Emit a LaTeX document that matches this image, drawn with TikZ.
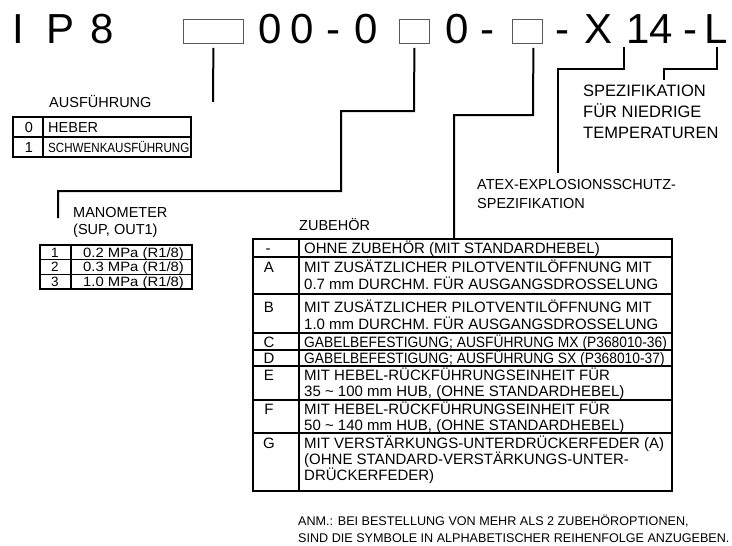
\documentclass[tikz,border=0pt]{standalone}
\usepackage{fontspec}
\setmainfont{Liberation Sans}
\usepackage{graphicx}
\begin{document}
\begin{tikzpicture}[x=1pt,y=-1pt,
  big/.style={font=\fontsize{42}{48}\selectfont, inner sep=0pt, anchor=base},
  lab/.style={font=\fontsize{14.5}{17}\selectfont, inner sep=0pt, anchor=base west},
  mlab/.style={font=\fontsize{13.5}{16}\selectfont, inner sep=0pt, anchor=base west},
  mkey/.style={font=\fontsize{13.5}{16}\selectfont, inner sep=0pt, anchor=base},
  hdr/.style={font=\fontsize{16.5}{20}\selectfont, inner sep=0pt, anchor=base west},
  atx/.style={font=\fontsize{14.5}{17}\selectfont, inner sep=0pt, anchor=base west},
  cell/.style={font=\fontsize{15}{18}\selectfont, inner sep=0pt, anchor=base west},
  key/.style={font=\fontsize{15}{18}\selectfont, inner sep=0pt, anchor=base},
  skey/.style={font=\fontsize{14.5}{17}\selectfont, inner sep=0pt, anchor=base},
  note/.style={font=\fontsize{12.6}{15}\selectfont, inner sep=0pt, anchor=base west},
  leader/.style={line width=2pt},
  codebox/.style={draw=black!65, line width=0.8pt, inner sep=0pt, minimum width=#1, minimum height=24pt, anchor=north west},
  tabout/.style={line width=1.8pt},
  tabin/.style={line width=1.1pt}
]
\useasboundingbox (0,0) rectangle (732,546);

% ---- code line ----
\node[big] (cI) at (18,43) {I};
\node[big] (cP) at (61,43) {P};
\node[big] (c8) at (102.5,43) {8};
\node[codebox=60pt] (b1) at (183,19) {};
\node[big] (c0a) at (270.5,43) {0};
\node[big] (c0b) at (302.5,43) {0};
\node[big] (cda) at (333.5,43) {-};
\node[big] (c0c) at (366.5,43) {0};
\node[codebox=30pt] (b2) at (399,19) {};
\node[big] (c0d) at (457,43) {0};
\node[big] (cdb) at (487,43) {-};
\node[codebox=30pt] (b3) at (512,19) {};
\node[big] (cdc) at (562,43) {-};
\node[big] (cX) at (599,43) {X};
\node[big] (c14) at (649.5,43) {14};
\node[big] (cdd) at (690,43) {-};
\node[big] (cL) at (716,43) {L};

% ---- leader lines ----
\coordinate (e1) at (213,102);
\coordinate (e2) at (58,218);
\coordinate (e3) at (454,239);
\coordinate (e4) at (558,173);
\coordinate (e5) at (664,80);
\draw[leader] ([yshift=-4pt]b1.south) -- (e1);
\draw[leader] ([yshift=-4pt]b2.south) -- (414,111) -- (341,111) -- (341,191) -| (e2);
\draw[leader] ([xshift=6pt,yshift=-4pt]b3.south) -- (533,115) -| (e3);
\draw[leader] ([xshift=25pt,yshift=-4pt]cX.base) -- (624,69) -| (e4);
\draw[leader] ([xshift=1pt,yshift=-4pt]cL.base) -- (717,69) -| (e5);

% ---- labels top right ----
\node[hdr] (sp1) at (583,96) {SPEZIFIKATION};
\node[hdr] (sp2) at (583,117) {FÜR NIEDRIGE};
\node[hdr] (sp3) at (583,138) {TEMPERATUREN};
\node[atx] (at1) at (477,189) {ATEX-EXPLOSIONSSCHUTZ-};
\node[atx] (at2) at (477,208) {SPEZIFIKATION};

% ---- AUSFÜHRUNG ----
\node[lab] (aus) at (49,107) {AUSFÜHRUNG};
\draw[tabout] (13,117) rectangle (191,157);
\draw[tabin] (13,137) -- (191,137) (43,117) -- (43,157);
\node[skey] (k0) at (29,132) {0};
\node[lab] (t0) at (48,132) {HEBER};
\node[skey] (k1) at (29,152) {1};
\node[lab] (t1) at (48,152) {\scalebox{0.8}[0.92]{SCHWENKAUSFÜHRUNG}};

% ---- MANOMETER ----
\node[lab] (man1) at (73,217) {MANOMETER};
\node[lab] (man2) at (73,234) {(SUP, OUT1)};
\draw[tabout] (40,245) rectangle (192,289);
\draw[tabin] (40,259.7) -- (192,259.7) (40,274.3) -- (192,274.3) (71,245) -- (71,289);
\node[mkey] (m1) at (55,257) {1};
\node[mlab] (mt1) at (83,257) {\scalebox{1.1}[1]{0.2 MPa (R1/8)}};
\node[mkey] (m2) at (55,271.7) {2};
\node[mlab] (mt2) at (83,271.7) {\scalebox{1.1}[1]{0.3 MPa (R1/8)}};
\node[mkey] (m3) at (55,286.4) {3};
\node[mlab] (mt3) at (83,286.4) {\scalebox{1.1}[1]{1.0 MPa (R1/8)}};

% ---- ZUBEHÖR ----
\node[lab] (zub) at (299,230) {ZUBEHÖR};
\draw[tabout] (253,239) rectangle (672,491);
\draw[tabin] (253,257) -- (672,257) (253,294) -- (672,294) (253,333) -- (672,333)
  (253,350) -- (672,350) (253,366) -- (672,366) (253,400) -- (672,400)
  (253,433) -- (672,433) (299,239) -- (299,491);
\node[key] (z0) at (268,253.5) {-};
\node[cell] (zt0) at (304,253.5) {OHNE ZUBEHÖR (MIT STANDARDHEBEL)};
\node[key] (zA) at (269,272.5) {A};
\node[cell] (ztA1) at (304,272.5) {MIT ZUSÄTZLICHER PILOTVENTILÖFFNUNG MIT};
\node[cell] (ztA2) at (304,289.5) {0.7 mm DURCHM. FÜR AUSGANGSDROSSELUNG};
\node[key] (zB) at (269,312.5) {B};
\node[cell] (ztB1) at (304,312.5) {MIT ZUSÄTZLICHER PILOTVENTILÖFFNUNG MIT};
\node[cell] (ztB2) at (304,329.5) {1.0 mm DURCHM. FÜR AUSGANGSDROSSELUNG};
\node[key] (zC) at (269,347.5) {C};
\node[cell] (ztC) at (304,347.5) {\scalebox{0.92}[1]{GABELBEFESTIGUNG; AUSFÜHRUNG MX (P368010-36)}};
\node[key] (zD) at (269,363.5) {D};
\node[cell] (ztD) at (304,363.5) {\scalebox{0.92}[1]{GABELBEFESTIGUNG; AUSFÜHRUNG SX (P368010-37)}};
\node[key] (zE) at (269,380.5) {E};
\node[cell] (ztE1) at (304,380.5) {MIT HEBEL-RÜCKFÜHRUNGSEINHEIT FÜR};
\node[cell] (ztE2) at (304,396.5) {35 \textasciitilde{} 100 mm HUB, (OHNE STANDARDHEBEL)};
\node[key] (zF) at (269,414.5) {F};
\node[cell] (ztF1) at (304,414.5) {MIT HEBEL-RÜCKFÜHRUNGSEINHEIT FÜR};
\node[cell] (ztF2) at (304,430.5) {50 \textasciitilde{} 140 mm HUB, (OHNE STANDARDHEBEL)};
\node[key] (zG) at (269,448.5) {G};
\node[cell] (ztG1) at (304,448.5) {MIT VERSTÄRKUNGS-UNTERDRÜCKERFEDER (A)};
\node[cell] (ztG2) at (304,464.5) {(OHNE STANDARD-VERSTÄRKUNGS-UNTER-};
\node[cell] (ztG3) at (304,480.5) {DRÜCKERFEDER)};

% ---- note ----
\node[note] (n1) at (298,525) {ANM.: BEI BESTELLUNG VON MEHR ALS 2 ZUBEHÖROPTIONEN,};
\node[note] (n2) at (298,542) {SIND DIE SYMBOLE IN ALPHABETISCHER REIHENFOLGE ANZUGEBEN.};
\end{tikzpicture}
\end{document}
